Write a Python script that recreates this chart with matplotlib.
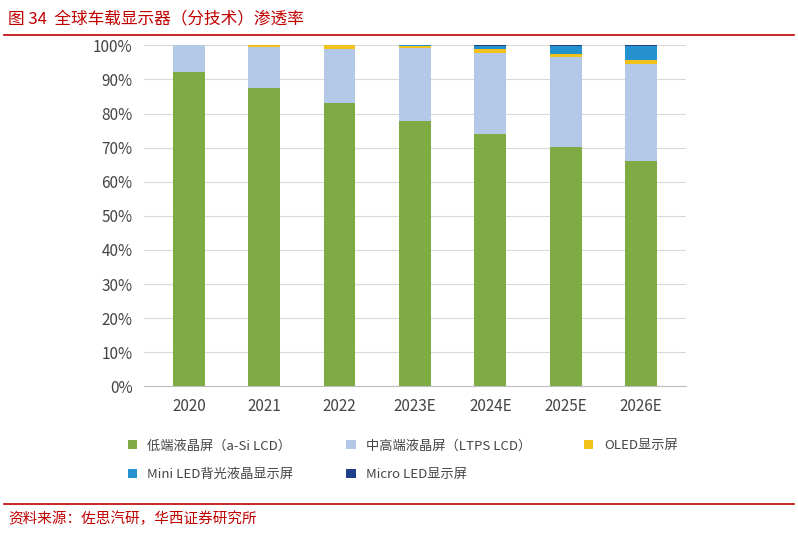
import matplotlib.pyplot as plt
import numpy as np

plt.rcParams['font.family'] = ['Noto Sans CJK SC', 'DejaVu Sans']

YEARS = ["2020", "2021", "2022", "2023E", "2024E", "2025E", "2026E"]
A_SI = [92.1, 87.6, 83.0, 77.8, 74.0, 70.3, 66.0]
OLED = [0.0, 0.5, 1.0, 0.7, 1.0, 1.0, 1.3]
MINI = [0.0, 0.0, 0.0, 0.2, 1.0, 2.3, 4.0]
MICRO = [0.0, 0.0, 0.0, 0.0, 0.2, 0.2, 0.2]
LTPS = [100 - a - o - m - mi for a, o, m, mi in zip(A_SI, OLED, MINI, MICRO)]

SERIES = [
    ("低端液晶屏（a-Si LCD）", A_SI, "#7fab45"),
    ("中高端液晶屏（LTPS LCD）", LTPS, "#b4c8e8"),
    ("OLED显示屏", OLED, "#f2c21b"),
    ("Mini LED背光液晶显示屏", MINI, "#2591cf"),
    ("Micro LED显示屏", MICRO, "#1f3f8a"),
]

fig = plt.figure(figsize=(7.98, 5.33), dpi=100)
ax = fig.add_axes([0.18, 0.275, 0.68, 0.64])
x = np.arange(len(YEARS))
bottom = np.zeros(len(YEARS))
handles = []
for name, vals, col in SERIES:
    h = ax.bar(x, vals, 0.42, bottom=bottom, color=col, label=name, zorder=3)
    handles.append(h)
    bottom += np.array(vals)

ax.set_ylim(0, 100)
ax.set_xlim(-0.6, len(YEARS) - 0.4)
ax.set_yticks(range(0, 101, 10))
ax.set_yticklabels([f"{v}%" for v in range(0, 101, 10)], fontsize=11, color="#444")
ax.set_xticks(x)
ax.set_xticklabels(YEARS, fontsize=11, color="#444")
ax.grid(axis="y", color="#d9d9d9", linewidth=0.8, zorder=0)
for s in ("top", "right", "left"):
    ax.spines[s].set_visible(False)
ax.spines["bottom"].set_color("#bfbfbf")
ax.tick_params(length=0, pad=8)

order = [0, 3, 1, 4, 2]
fig.legend([handles[i] for i in order], [SERIES[i][0] for i in order],
           ncol=3, loc="lower left", bbox_to_anchor=(0.145, 0.075),
           frameon=False, fontsize=9.5, handlelength=0.7, handleheight=0.7,
           columnspacing=4.0, labelspacing=1.2, labelcolor="#444")

red = "#c00000"
fig.text(0.01, 0.965, "图 34  全球车载显示器（分技术）渗透率", fontsize=12,
         color=red, va="center")
fig.add_artist(plt.Line2D([0.005, 0.995], [0.935, 0.935], color=red, lw=1.2))
fig.add_artist(plt.Line2D([0.005, 0.995], [0.055, 0.055], color=red, lw=1.2))
fig.text(0.01, 0.027, "资料来源：佐思汽研，华西证券研究所", fontsize=10.5,
         color=red, va="center")

fig.savefig("out.png", dpi=100, facecolor="white")
